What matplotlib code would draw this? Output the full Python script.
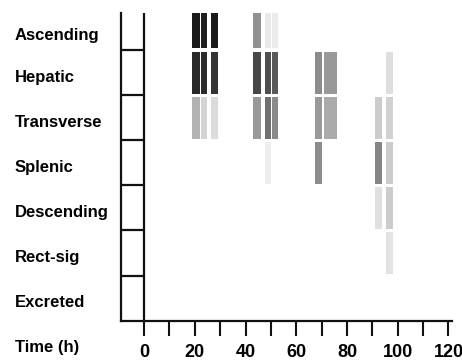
import numpy as np
import matplotlib.pyplot as plt
import matplotlib.transforms as mtransforms

plt.rcParams['font.family'] = ['Liberation Sans', 'DejaVu Sans']
plt.rcParams['font.weight'] = 'bold'

regions = ['Ascending', 'Hepatic', 'Transverse', 'Splenic',
           'Descending', 'Rect-sig', 'Excreted']

# scan times (h) and the width of each scan band (h)
scan_times = [20.5, 23.75, 27.75, 44.6, 48.9, 51.8, 68.7, 73.5, 92.4, 96.7]
scan_widths = [3.1, 2.3, 2.9, 3.0, 2.4, 2.4, 3.0, 4.9, 2.6, 2.8]

# relative activity in each region per scan (0 = none, 1 = max)
activity = np.array([
    [0.90, 0.88, 0.90, 0.43, 0.09, 0.08, 0.00, 0.00, 0.00, 0.00],  # Ascending
    [0.84, 0.83, 0.80, 0.72, 0.69, 0.65, 0.45, 0.40, 0.00, 0.13],  # Hepatic
    [0.30, 0.17, 0.14, 0.40, 0.56, 0.46, 0.40, 0.33, 0.20, 0.18],  # Transverse
    [0.00, 0.00, 0.00, 0.00, 0.07, 0.00, 0.45, 0.00, 0.48, 0.20],  # Splenic
    [0.00, 0.00, 0.00, 0.00, 0.00, 0.00, 0.00, 0.00, 0.12, 0.20],  # Descending
    [0.00, 0.00, 0.00, 0.00, 0.00, 0.00, 0.00, 0.00, 0.00, 0.11],  # Rect-sig
    [0.00, 0.00, 0.00, 0.00, 0.00, 0.00, 0.00, 0.00, 0.00, 0.00],  # Excreted
])

fig = plt.figure(figsize=(4.62, 3.63), dpi=100)
ax = fig.add_axes([0.262, 0.1165, 0.7158, 0.8485])

x_left, x_right = -9.07, 121.3
y_top = 0.174
n_rows = len(regions)

# grey bands, one per region and scan
gap = 0.035
for i in range(n_rows):
    for j, t in enumerate(scan_times):
        a = activity[i, j]
        if a <= 0:
            continue
        ax.bar(t, 1 - 2 * gap, width=scan_widths[j], bottom=i + gap,
               color=str(1 - a), linewidth=0, zorder=1)

# region ladder on the left
lw = 1.6
ax.axvline(0, color='#111111', lw=lw, zorder=3)
ax.hlines(np.arange(1, n_rows), x_left, 0, color='#111111', lw=lw, zorder=3)

ax.set_xlim(x_left, x_right)
ax.set_ylim(n_rows, y_top)

for side in ['top', 'right']:
    ax.spines[side].set_visible(False)
for side in ['left', 'bottom']:
    ax.spines[side].set_linewidth(lw)
    ax.spines[side].set_color('#111111')

ax.set_yticks([])
ax.set_xticks(np.arange(0, 121, 20))
ax.set_xticks(np.arange(10, 121, 20), minor=True)
ax.tick_params(axis='x', which='both', direction='out', length=11,
               width=1.5, color='#111111', pad=6, labelsize=13)
for lab in ax.get_xticklabels():
    lab.set_fontweight('bold')

# region names, left of the ladder
trans = mtransforms.blended_transform_factory(fig.transFigure, ax.transData)
for i, name in enumerate(regions):
    yc = (y_top + 1) / 2 if i == 0 else i + 0.5
    fig.text(0.0325, yc + 0.1, name, transform=trans, ha='left',
             va='center', fontsize=12, fontweight='bold')

fig.text(0.0325, 0.044, 'Time (h)', ha='left', va='center',
         fontsize=12, fontweight='bold')

fig.savefig('out.png', dpi=100)
